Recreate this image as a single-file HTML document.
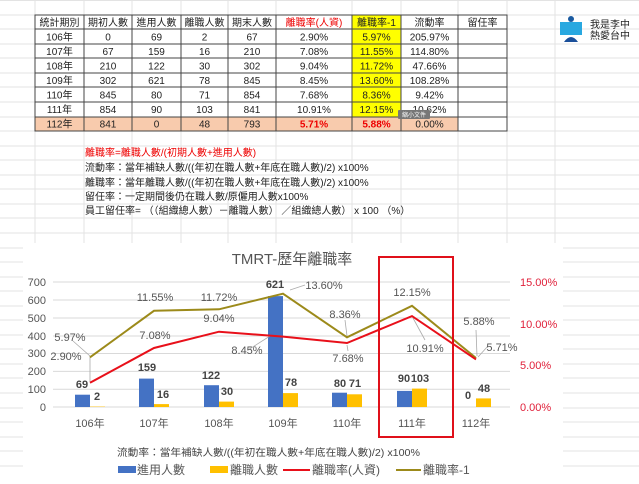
<!DOCTYPE html>
<html><head><meta charset="utf-8"><style>
html,body{margin:0;padding:0;background:#fff;}
svg{display:block;font-family:"Liberation Sans","Noto Sans CJK TC",sans-serif;}
</style></head><body>
<svg width="639" height="484" viewBox="0 0 639 484" xmlns="http://www.w3.org/2000/svg">
<g stroke="#e3e3e3" stroke-width="1">
<line x1="35" y1="0" x2="35" y2="484"/><line x1="84" y1="0" x2="84" y2="484"/><line x1="132" y1="0" x2="132" y2="484"/>
<line x1="181" y1="0" x2="181" y2="484"/><line x1="228" y1="0" x2="228" y2="484"/><line x1="276" y1="0" x2="276" y2="484"/>
<line x1="352" y1="0" x2="352" y2="484"/><line x1="401" y1="0" x2="401" y2="484"/><line x1="458" y1="0" x2="458" y2="484"/>
<line x1="507" y1="0" x2="507" y2="484"/><line x1="555" y1="0" x2="555" y2="484"/>
<line x1="0" y1="0.5" x2="639" y2="0.5"/><line x1="0" y1="15" x2="639" y2="15"/><line x1="0" y1="29" x2="639" y2="29"/>
<line x1="0" y1="44" x2="639" y2="44"/><line x1="0" y1="58" x2="639" y2="58"/><line x1="0" y1="73" x2="639" y2="73"/>
<line x1="0" y1="87" x2="639" y2="87"/><line x1="0" y1="102" x2="639" y2="102"/><line x1="0" y1="117" x2="639" y2="117"/>
<line x1="0" y1="131" x2="639" y2="131"/><line x1="0" y1="146" x2="639" y2="146"/><line x1="0" y1="160" x2="639" y2="160"/>
<line x1="0" y1="175" x2="639" y2="175"/><line x1="0" y1="189" x2="639" y2="189"/><line x1="0" y1="204" x2="639" y2="204"/>
<line x1="0" y1="218" x2="639" y2="218"/><line x1="0" y1="233" x2="639" y2="233"/><line x1="0" y1="248" x2="639" y2="248"/>
<line x1="0" y1="262" x2="639" y2="262"/><line x1="0" y1="277" x2="639" y2="277"/><line x1="0" y1="291" x2="639" y2="291"/>
<line x1="0" y1="306" x2="639" y2="306"/><line x1="0" y1="320" x2="639" y2="320"/><line x1="0" y1="335" x2="639" y2="335"/>
<line x1="0" y1="349" x2="639" y2="349"/><line x1="0" y1="364" x2="639" y2="364"/><line x1="0" y1="378" x2="639" y2="378"/>
<line x1="0" y1="393" x2="639" y2="393"/><line x1="0" y1="408" x2="639" y2="408"/><line x1="0" y1="422" x2="639" y2="422"/>
<line x1="0" y1="437" x2="639" y2="437"/><line x1="0" y1="451" x2="639" y2="451"/><line x1="0" y1="466" x2="639" y2="466"/>
</g>
<rect x="35" y="15" width="472" height="116" fill="#fff"/>
<rect x="352" y="15" width="49" height="102" fill="#ffff00"/>
<rect x="35" y="117" width="423" height="14" fill="#f8cbad"/>
<g stroke="#444" stroke-width="1" fill="none">
<rect x="35" y="15" width="472" height="116"/>
<line x1="84" y1="15" x2="84" y2="131"/><line x1="132" y1="15" x2="132" y2="131"/><line x1="181" y1="15" x2="181" y2="131"/>
<line x1="228" y1="15" x2="228" y2="131"/><line x1="276" y1="15" x2="276" y2="131"/><line x1="352" y1="15" x2="352" y2="131"/>
<line x1="401" y1="15" x2="401" y2="131"/><line x1="458" y1="15" x2="458" y2="131"/>
<line x1="35" y1="29" x2="507" y2="29"/><line x1="35" y1="44" x2="507" y2="44"/><line x1="35" y1="58" x2="507" y2="58"/>
<line x1="35" y1="73" x2="507" y2="73"/><line x1="35" y1="87" x2="507" y2="87"/><line x1="35" y1="102" x2="507" y2="102"/>
<line x1="35" y1="117" x2="507" y2="117"/>
</g>
<g font-size="10" fill="#222" text-anchor="middle">
<text x="59.5" y="26">統計期別</text><text x="108" y="26">期初人數</text><text x="156.5" y="26">進用人數</text>
<text x="204.5" y="26">離職人數</text><text x="252" y="26">期末人數</text><text x="314" y="26" fill="#e00">離職率(人資)</text>
<text x="376.5" y="26">離職率-1</text><text x="429.5" y="26">流動率</text><text x="482.5" y="26">留任率</text>
<text x="59.5" y="40.5">106年</text><text x="108" y="40.5">0</text><text x="156.5" y="40.5">69</text><text x="204.5" y="40.5">2</text><text x="252" y="40.5">67</text><text x="314" y="40.5">2.90%</text><text x="376.5" y="40.5">5.97%</text><text x="429.5" y="40.5">205.97%</text>
<text x="59.5" y="55">107年</text><text x="108" y="55">67</text><text x="156.5" y="55">159</text><text x="204.5" y="55">16</text><text x="252" y="55">210</text><text x="314" y="55">7.08%</text><text x="376.5" y="55">11.55%</text><text x="429.5" y="55">114.80%</text>
<text x="59.5" y="69.5">108年</text><text x="108" y="69.5">210</text><text x="156.5" y="69.5">122</text><text x="204.5" y="69.5">30</text><text x="252" y="69.5">302</text><text x="314" y="69.5">9.04%</text><text x="376.5" y="69.5">11.72%</text><text x="429.5" y="69.5">47.66%</text>
<text x="59.5" y="84">109年</text><text x="108" y="84">302</text><text x="156.5" y="84">621</text><text x="204.5" y="84">78</text><text x="252" y="84">845</text><text x="314" y="84">8.45%</text><text x="376.5" y="84">13.60%</text><text x="429.5" y="84">108.28%</text>
<text x="59.5" y="98.5">110年</text><text x="108" y="98.5">845</text><text x="156.5" y="98.5">80</text><text x="204.5" y="98.5">71</text><text x="252" y="98.5">854</text><text x="314" y="98.5">7.68%</text><text x="376.5" y="98.5">8.36%</text><text x="429.5" y="98.5">9.42%</text>
<text x="59.5" y="113">111年</text><text x="108" y="113">854</text><text x="156.5" y="113">90</text><text x="204.5" y="113">103</text><text x="252" y="113">841</text><text x="314" y="113">10.91%</text><text x="376.5" y="113">12.15%</text><text x="429.5" y="113">10.62%</text>
<text x="59.5" y="127.5">112年</text><text x="108" y="127.5">841</text><text x="156.5" y="127.5">0</text><text x="204.5" y="127.5">48</text><text x="252" y="127.5">793</text>
<text x="314" y="127.5" fill="#e00" font-weight="bold">5.71%</text><text x="376.5" y="127.5" fill="#e00" font-weight="bold">5.88%</text><text x="429.5" y="127.5">0.00%</text>
</g>
<rect x="398" y="110" width="32" height="9" fill="#777" rx="1"/>
<text x="414" y="117" font-size="6" fill="#fff" text-anchor="middle">縮小文件</text>
<rect x="560" y="22" width="22" height="13" fill="#29a8e0"/>
<circle cx="571" cy="19" r="3" fill="#1a5aa0"/>
<path d="M564 42 Q571 32 578 42 Z" fill="#1a4f9a"/>
<text x="590" y="28" font-size="10" fill="#222">我是李中</text>
<text x="590" y="39" font-size="10" fill="#222">熱愛台中</text>
<g font-size="10" fill="#222">
<text x="85" y="156" fill="#e00">離職率=離職人數/(初期人數+進用人數)</text>
<text x="85" y="171">流動率：當年補缺人數/((年初在職人數+年底在職人數)/2) x100%</text>
<text x="85" y="186">離職率：當年離職人數/((年初在職人數+年底在職人數)/2) x100%</text>
<text x="85" y="200">留任率：一定期間後仍在職人數/原僱用人數x100%</text>
<text x="85" y="214">員工留任率= （（組織總人數）－離職人數） ／組織總人數） x 100 （%）</text>
</g>
<rect x="23" y="243" width="540" height="241" fill="#fff"/>
<text x="292" y="264" font-size="15" fill="#555" text-anchor="middle">TMRT-歷年離職率</text>
<g stroke="#d9d9d9" stroke-width="1">
<line x1="53" y1="282" x2="510" y2="282"/><line x1="53" y1="300" x2="510" y2="300"/><line x1="53" y1="318" x2="510" y2="318"/>
<line x1="53" y1="336" x2="510" y2="336"/><line x1="53" y1="353.5" x2="510" y2="353.5"/><line x1="53" y1="371.4" x2="510" y2="371.4"/>
<line x1="53" y1="389.2" x2="510" y2="389.2"/><line x1="53" y1="407" x2="510" y2="407"/>
</g>
<g font-size="11" fill="#555" text-anchor="end">
<text x="46" y="286">700</text><text x="46" y="304">600</text><text x="46" y="322">500</text><text x="46" y="340">400</text>
<text x="46" y="357">300</text><text x="46" y="375">200</text><text x="46" y="393">100</text><text x="46" y="411">0</text>
</g>
<g font-size="11" fill="#e0203a">
<text x="520" y="286">15.00%</text><text x="520" y="328">10.00%</text><text x="520" y="369">5.00%</text><text x="520" y="411">0.00%</text>
</g>
<g font-size="11" fill="#555" text-anchor="middle">
<text x="90" y="427">106年</text><text x="154" y="427">107年</text><text x="219" y="427">108年</text><text x="283" y="427">109年</text>
<text x="347" y="427">110年</text><text x="412" y="427">111年</text><text x="476" y="427">112年</text>
</g>
<g fill="#4472c4">
<rect x="75" y="394.7" width="15" height="12.3"/><rect x="139" y="378.6" width="15" height="28.4"/>
<rect x="204" y="385.2" width="15" height="21.8"/><rect x="268" y="296.1" width="15" height="110.9"/>
<rect x="332" y="392.7" width="15" height="14.3"/><rect x="397" y="390.9" width="15" height="16.1"/>
</g>
<g fill="#ffc000">
<rect x="90" y="406.6" width="15" height="0.4"/><rect x="154" y="404.1" width="15" height="2.9"/>
<rect x="219" y="401.6" width="15" height="5.4"/><rect x="283" y="393.1" width="15" height="13.9"/>
<rect x="347" y="394.3" width="15" height="12.7"/><rect x="412" y="388.6" width="15" height="18.4"/>
<rect x="476" y="398.4" width="15" height="8.6"/>
</g>
<g stroke="#aaa" stroke-width="0.8" fill="none">
<polyline points="73,341 90,356 90,382"/><polyline points="248,350 270,336"/><polyline points="290,290 305,285"/>
<polyline points="345,320 347,336"/><polyline points="347,345 348,351"/><polyline points="413,318 425,340"/>
<polyline points="476,330 477,356"/><polyline points="478,357 488,346"/>
</g>
<polyline points="90,357.3 154,310.8 219,309.3 283,293.7 347,337.3 412,305.8 476,358" fill="none" stroke="#9c8a1a" stroke-width="2"/>
<polyline points="90,382.8 154,348 219,331.7 283,336.6 347,343 412,316.1 476,359.4" fill="none" stroke="#e8101a" stroke-width="2"/>
<g font-size="11" fill="#555" text-anchor="middle">
<text x="70" y="341">5.97%</text><text x="66" y="360">2.90%</text>
<text x="155" y="301">11.55%</text><text x="155" y="339">7.08%</text>
<text x="219" y="301">11.72%</text><text x="219" y="322">9.04%</text>
<text x="324" y="289">13.60%</text><text x="247" y="354">8.45%</text>
<text x="345" y="318">8.36%</text><text x="348" y="362">7.68%</text>
<text x="412" y="296">12.15%</text><text x="425" y="352">10.91%</text>
<text x="479" y="325">5.88%</text><text x="502" y="351">5.71%</text>
</g>
<g font-size="11" fill="#444" font-weight="bold" text-anchor="middle">
<text x="82" y="388">69</text><text x="97" y="400">2</text><text x="147" y="371">159</text><text x="163" y="398">16</text>
<text x="211" y="379">122</text><text x="227" y="395">30</text><text x="275" y="288">621</text><text x="291" y="386">78</text>
<text x="340" y="387">80</text><text x="355" y="387">71</text><text x="404" y="382">90</text><text x="420" y="382">103</text>
<text x="468" y="399">0</text><text x="484" y="392">48</text>
</g>
<rect x="379" y="257" width="74" height="180" fill="none" stroke="#e0101a" stroke-width="2"/>
<text x="117" y="456" font-size="10" fill="#444" textLength="303" lengthAdjust="spacingAndGlyphs">流動率：當年補缺人數/((年初在職人數+年底在職人數)/2) x100%</text>
<rect x="118" y="466" width="18" height="7" fill="#4472c4"/>
<text x="137" y="474" font-size="12" fill="#555">進用人數</text>
<rect x="210" y="466" width="18" height="7" fill="#ffc000"/>
<text x="230" y="474" font-size="12" fill="#555">離職人數</text>
<line x1="283" y1="470" x2="310" y2="470" stroke="#e8101a" stroke-width="2"/>
<text x="312" y="474" font-size="12" fill="#555">離職率(人資)</text>
<line x1="396" y1="470" x2="421" y2="470" stroke="#9c8a1a" stroke-width="2"/>
<text x="423" y="474" font-size="12" fill="#555">離職率-1</text>
</svg>
</body></html>
